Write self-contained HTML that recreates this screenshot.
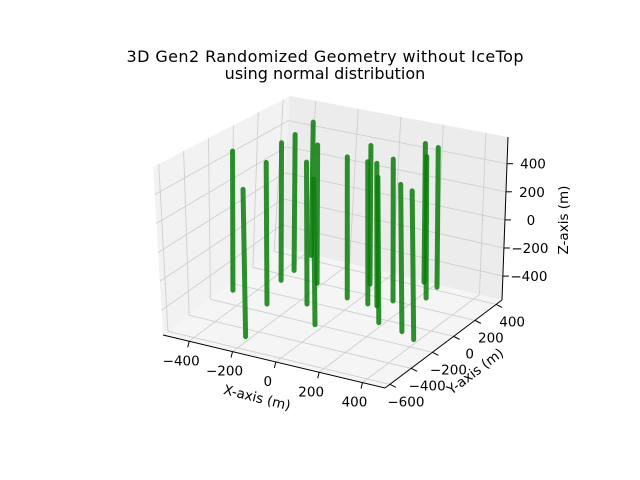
<!DOCTYPE html>
<html><head><meta charset="utf-8"><style>
body{margin:0;background:#fff}
svg{display:block;font-family:"DejaVu Sans","Liberation Sans",sans-serif}
</style></head><body>
<svg id="chart" width="640" height="480" viewBox="0 0 640 480">
<rect width="640" height="480" fill="#fff"/>
<text x="325" y="62" font-size="16" text-anchor="middle" textLength="397" fill="#000">3D Gen2 Randomized Geometry without IceTop</text>
<text x="325" y="79" font-size="16" text-anchor="middle" fill="#000">using normal distribution</text>
<g id="panes"></g><g id="grid"></g><g id="axes"></g><g id="marks"></g>
<text x="0" y="0" font-size="13.5" text-anchor="middle" transform="translate(256,402) rotate(14)">X-axis (m)</text>
<text x="0" y="0" font-size="13.5" text-anchor="middle" transform="translate(478,375) rotate(-37)">Y-axis (m)</text>
<text x="0" y="0" font-size="13.5" text-anchor="middle" transform="translate(568,220) rotate(-90)">Z-axis (m)</text>
</svg>
<script>
const stringX = [-439,-175,-254,-317,-318,-328,-114,-177,12,-2,13,99,140,226,173,349,428,193,275,262];
const stringY = [-155,-572,-211,49,173,355,-120,102,-301,30,213,18,20,-137,104,-170,-220,354,207,336];
const stringZTop = 500;
const stringZBottom = -500;
const xTicks = [-400,-200,0,200,400];
const yTicks = [-600,-400,-200,0,200,400];
const zTicks = [-400,-200,0,200,400];
const XMIN=-521,XMAX=504,YMIN=-646,YMAX=455,ZMIN=-570,ZMAX=590;
const NS="http://www.w3.org/2000/svg";
function P(x,y,z,k){
  if(k===undefined)k=1;
  const u=(x-XMIN)/(XMAX-XMIN), v=(y-YMIN)/(YMAX-YMIN), w=(z-ZMIN)/(ZMAX-ZMIN);
  const bx=163+222*u+117*v, by=335+53*u-88*v;
  const ex=(-10-4*u+20*v)*k, ey=-168-12*u+17*v;
  return [bx+ex*w, by+ey*w];
}
function mk(tag,attrs,parent){const e=document.createElementNS(NS,tag);for(const k in attrs)e.setAttribute(k,attrs[k]);document.getElementById(parent).appendChild(e);return e;}
function poly(pts){return pts.map(p=>p[0].toFixed(1)+","+p[1].toFixed(1)).join(" ");}
let e;
e=mk("polygon",{points:poly([P(XMIN,YMIN,ZMIN),P(XMIN,YMAX,ZMIN),P(XMIN,YMAX,ZMAX),P(XMIN,YMIN,ZMAX)]),fill:"#f2f2f2"},"panes");


e=mk("polygon",{points:poly([P(XMIN,YMAX,ZMIN),P(XMAX,YMAX,ZMIN),P(XMAX,YMAX,ZMAX),P(XMIN,YMAX,ZMAX)]),fill:"#ececec"},"panes");


e=mk("polygon",{points:poly([P(XMIN,YMIN,ZMIN),P(XMAX,YMIN,ZMIN),P(XMAX,YMAX,ZMIN),P(XMIN,YMAX,ZMIN)]),fill:"#f5f5f5"},"panes");


function gl(a,b){const l=mk("line",{x1:a[0],y1:a[1],x2:b[0],y2:b[1],stroke:"#cfcfcf","stroke-width":0.9},"grid");

}
xTicks.forEach(t=>{gl(P(t,YMIN,ZMIN),P(t,YMAX,ZMIN));gl(P(t,YMAX,ZMIN),P(t,YMAX,ZMAX));});
yTicks.forEach(t=>{gl(P(XMAX,t,ZMIN),P(XMIN,t,ZMIN));gl(P(XMIN,t,ZMIN),P(XMIN,t,ZMAX));});
zTicks.forEach(t=>{gl(P(XMIN,YMIN,t),P(XMIN,YMAX,t));gl(P(XMIN,YMAX,t),P(XMAX,YMAX,t));});
function al(a,b,name){const l=mk("line",{x1:a[0],y1:a[1],x2:b[0],y2:b[1],stroke:"#000","stroke-width":1},"axes");

}
al(P(XMIN,YMIN,ZMIN),P(XMAX,YMIN,ZMIN),'x-axis-line');
al(P(XMAX,YMIN,ZMIN),P(XMAX,YMAX,ZMIN),'y-axis-line');
al(P(XMAX,YMAX,ZMIN),P(XMAX,YMAX,ZMAX),'z-axis-line');
function lab(p,s,anchor,name){const t=mk("text",{x:p[0],y:p[1],"font-size":13.5,"text-anchor":anchor,fill:"#000"},"axes");t.textContent=s;

}
function fmt(t){return t<0?"\u2212"+(-t):String(t);}
xTicks.forEach(t=>{const a=P(t,YMIN,ZMIN);al(a,[a[0]-1.5,a[1]+6],'x-tick');lab([a[0]-8,a[1]+24],fmt(t),"middle",'x-tick-label');});
yTicks.forEach(t=>{const a=P(XMAX,t,ZMIN);al(a,[a[0]+6,a[1]+3],'y-tick');lab([a[0]+16,a[1]+22],fmt(t),"middle",'y-tick-label');});
zTicks.forEach(t=>{const a=P(XMAX,YMAX,t);al(a,[a[0]+6,a[1]],'z-tick');lab([a[0]+26,a[1]+5],fmt(t),"middle",'z-tick-label');});
const idx=stringX.map((_,i)=>i).sort((a,b)=>{
  const da=(stringY[a]-YMIN)/(YMAX-YMIN)-(stringX[a]-XMIN)/(XMAX-XMIN);
  const db=(stringY[b]-YMIN)/(YMAX-YMIN)-(stringX[b]-XMIN)/(XMAX-XMIN);return db-da;});
idx.forEach(i=>{
  const a=P(stringX[i],stringY[i],stringZBottom,0.3), b=P(stringX[i],stringY[i],stringZTop,0.3);
  const l=mk("line",{x1:a[0],y1:a[1],x2:b[0],y2:b[1],stroke:"#0a7d0a","stroke-width":5,"stroke-linecap":"round","stroke-opacity":0.85},"marks");
  
  
});
</script>
</body></html>
